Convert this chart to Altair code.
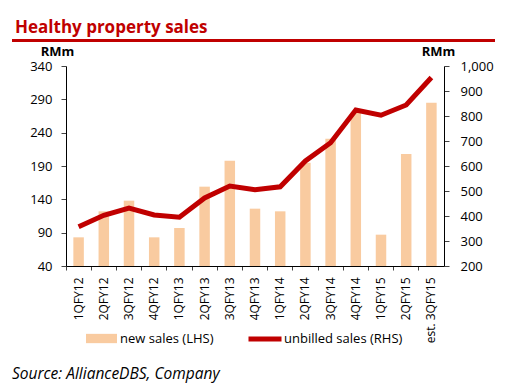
import altair as alt
import pandas as pd

quarters = ["1QFY12", "2QFY12", "3QFY12", "4QFY12", "1QFY13", "2QFY13", "3QFY13",
            "4QFY13", "1QFY14", "2QFY14", "3QFY14", "4QFY14", "1QFY15", "2QFY15",
            "est. 3QFY15"]
new_sales = [83, 122, 138, 83, 97, 159, 198, 126, 122, 195, 231, 270, 87, 208, 285]
unbilled_sales = [357, 403, 432, 404, 395, 472, 520, 505, 517, 620, 693, 824, 803, 844, 954]

FONT = "Open Sans"
RED = "#C00000"
PEACH = "#F9CBA0"

df = pd.DataFrame({
    "quarter": quarters,
    "new": new_sales,
    "unbilled": unbilled_sales,
    "s1": ["new sales (LHS)"] * len(quarters),
    "s2": ["unbilled sales (RHS)"] * len(quarters),
})

xaxis = alt.Axis(labelAngle=270, labelAlign="right", labelBaseline="middle",
                 labelFontSize=12, labelFont=FONT,
                 labelColor="black", bandPosition=0, tickSize=4,
                 tickColor="#444", domainColor="black", labelPadding=7,
                 labelOverlap=False, labelBound=False, labelLimit=400)
xscale = alt.Scale(paddingInner=0, paddingOuter=0)

bars = alt.Chart(df).mark_bar(size=10.5, clip=True).encode(
    x=alt.X("quarter:N", sort=quarters, title=None, scale=xscale, axis=xaxis),
    y=alt.Y("new:Q", title="RMm",
            scale=alt.Scale(domain=[40, 340], nice=False, zero=False),
            axis=alt.Axis(values=[40, 90, 140, 190, 240, 290, 340], grid=False,
                          labelFontSize=13, labelFont=FONT, labelColor="black",
                          tickSize=5, tickColor="#444", domainColor="black",
                          labelPadding=9, titleAngle=0, titleX=-9, titleY=-11,
                          titleAlign="center", titleBaseline="alphabetic",
                          titleFontSize=13, titleFont=FONT, titleFontWeight="bold")),
    y2=alt.Y2(datum=40),
    color=alt.Color("s1:N", scale=alt.Scale(range=[PEACH]),
                    legend=alt.Legend(title=None, orient="none", legendX=20, legendY=257,
                                      symbolType="M-1,-0.3H1V0.3H-1Z", symbolSize=961,
                                      labelFontSize=13, labelFont=FONT, labelColor="black",
                                      symbolStrokeWidth=0, labelOffset=3)),
)

line = alt.Chart(df).mark_line(strokeWidth=5, color=RED).encode(
    x=alt.X("quarter:N", sort=quarters, title=None, scale=xscale, axis=xaxis),
    y=alt.Y("unbilled:Q", title="RMm",
            scale=alt.Scale(domain=[200, 1000], nice=False, zero=False),
            axis=alt.Axis(orient="right", values=list(range(200, 1001, 100)),
                          labelExpr="format(datum.value, ',')",
                          grid=False, labelFontSize=13, labelFont=FONT, labelColor="black",
                          tickSize=5, tickColor="#444", domainColor="black",
                          labelPadding=11, titleAngle=0, titleX=-6, titleY=-11,
                          titleAlign="center", titleBaseline="alphabetic",
                          titleFontSize=13, titleFont=FONT, titleFontWeight="bold")),
    stroke=alt.Stroke("s2:N", scale=alt.Scale(range=[RED]),
                      legend=alt.Legend(title=None, orient="none", legendX=180, legendY=254,
                                        symbolType="stroke", symbolSize=1089,
                                        symbolStrokeWidth=5, labelFontSize=13,
                                        labelFont=FONT, labelColor="black", labelOffset=0)),
)

one = alt.Data(values=[{}])

title = alt.Chart(one).mark_text(text="Healthy property sales", align="left",
                                 baseline="alphabetic", fontSize=17, fontWeight="bold",
                                 font=FONT, color=RED).encode(
    x=alt.value(-51), y=alt.value(-33))

rule = alt.Chart(one).mark_rule(color=RED, strokeWidth=3).encode(
    x=alt.value(-54), x2=alt.value(429), y=alt.value(-25.5))

source = alt.Chart(one).mark_text(text="Source: AllianceDBS, Company", align="left",
                                  baseline="alphabetic", fontSize=15.5, fontStyle="italic",
                                  font=FONT, color="black").encode(
    x=alt.value(-54), y=alt.value(313))

chart = alt.layer(bars, line).resolve_scale(y="independent", color="independent")
chart = alt.layer(chart, title, rule, source).properties(
    width=378, height=200,
    autosize=alt.AutoSizeParams(type="none"),
    padding={"left": 58, "top": 58, "right": 58, "bottom": 118},
).configure_view(stroke=None)

chart.save("out.html", embed_options={"renderer": "svg", "actions": False})
